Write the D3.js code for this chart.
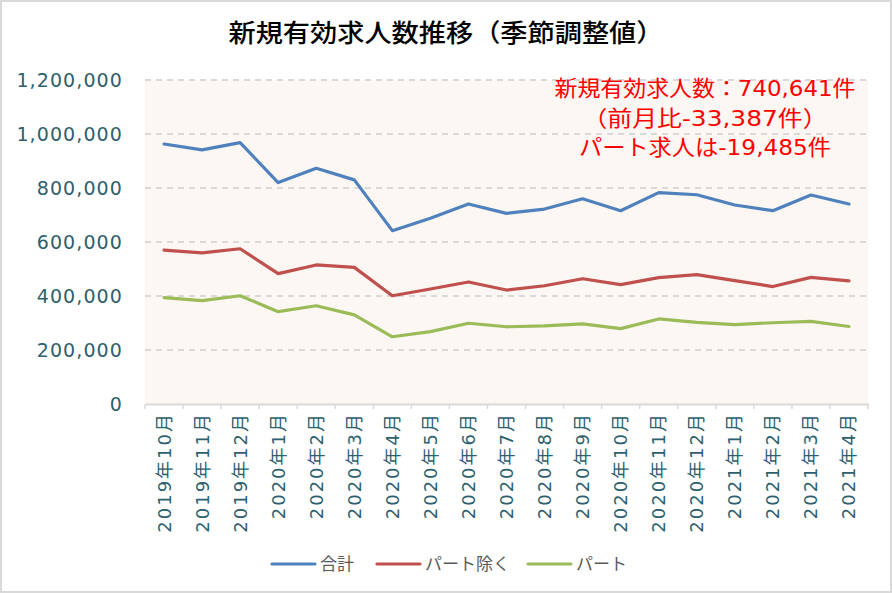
<!DOCTYPE html>
<html><head><meta charset="utf-8">
<script src="https://cdn.jsdelivr.net/npm/d3@7"></script>
<style>body{margin:0;background:#fff}svg{display:block}</style>
</head><body>
<script>
const categories = ["2019年10月","2019年11月","2019年12月","2020年1月","2020年2月","2020年3月","2020年4月","2020年5月","2020年6月","2020年7月","2020年8月","2020年9月","2020年10月","2020年11月","2020年12月","2021年1月","2021年2月","2021年3月","2021年4月"];
const totalValues = [963000,941000,968000,820000,873000,830000,642000,688000,741000,706000,722000,760000,716000,783000,775000,737000,716000,774028,740641];
const nonPartValues = [570000,560000,575000,483000,515000,506000,401000,426000,452000,422000,438000,464000,442000,468000,479000,457000,435000,469000,456000];
const partValues = [394000,383000,401000,342000,364000,330000,249000,268000,299000,286000,289000,297000,279000,315000,302000,294000,301000,306000,287000];
const seriesNames = ["合計","パート除く","パート"];
const yTicks = [0,200000,400000,600000,800000,1000000,1200000];
const titleText = "新規有効求人数推移（季節調整値）";
const noteLines = ["新規有効求人数：740,641件","（前月比-33,387件）","パート求人は-19,485件"];

const W = 892, H = 593;
const colors = ["#4f81bd","#c0504d","#9bbb59"];
const teal = "#2e5f6e";
const svg = d3.select("body").append("svg").attr("width", W).attr("height", H);

svg.append("rect").attr("x",1).attr("y",1).attr("width",W-2).attr("height",H-2)
  .attr("fill","#fff").attr("stroke","#d9d9d9").attr("stroke-width",2);

const plot = {l:145, r:868, t:80, b:404};
svg.append("rect").attr("x",plot.l).attr("y",plot.t).attr("width",plot.r-plot.l).attr("height",plot.b-plot.t).attr("fill","#fcf7f3");

const x = d3.scaleBand().domain(categories).range([plot.l, plot.r]);
const y = d3.scaleLinear().domain([0,1200000]).range([plot.b, plot.t]);

// gridlines
svg.append("g").selectAll("line").data(yTicks.filter(d=>d>0)).join("line")
  .attr("x1",plot.l).attr("x2",plot.r).attr("y1",d=>y(d)).attr("y2",d=>y(d))
  .attr("stroke","#d9d9d9").attr("stroke-width",2).attr("stroke-dasharray","6,5");

// y axis labels
const yAxis = d3.axisLeft(y).tickValues(yTicks).tickFormat(d3.format(",")).tickSize(0).tickPadding(22);
const ya = svg.append("g").attr("transform",`translate(${plot.l},0)`).call(yAxis);
ya.select(".domain").remove();
ya.selectAll("text").attr("fill",teal).attr("font-family","DejaVu Sans").attr("font-size",19)
  .attr("letter-spacing","1.1px").attr("dy","0.36em");

// x axis
const xAxis = d3.axisBottom(x).tickSize(0).tickPadding(0);
const xa = svg.append("g").attr("transform",`translate(0,${plot.b})`).call(xAxis);
xa.select(".domain").attr("stroke","#d9d9d9").attr("stroke-width",2);
xa.append("g").selectAll("line").data(d3.range(categories.length+1)).join("line")
  .attr("x1",i=>plot.l + i*x.step()).attr("x2",i=>plot.l + i*x.step())
  .attr("y1",0).attr("y2",5).attr("stroke","#d9d9d9").attr("stroke-width",1.5);
xa.selectAll(".tick text")
  .attr("transform","rotate(-90)")
  .attr("text-anchor","end")
  .attr("x",-8).attr("y",0).attr("dy","0.36em")
  .attr("fill",teal).attr("font-family","DejaVu Sans, 'Noto Sans CJK JP'").attr("font-size",18)
  .attr("letter-spacing","2px");

// lines
const line = d3.line().x((d,i)=>x(categories[i]) + x.bandwidth()/2).y(d=>y(d));
[totalValues, nonPartValues, partValues].forEach((vals,k)=>{
  svg.append("path").datum(vals).attr("d",line).attr("fill","none")
    .attr("stroke",colors[k]).attr("stroke-width",3.2).attr("stroke-linejoin","round").attr("stroke-linecap","round");
});

// title
svg.append("text").attr("x",446).attr("y",42).attr("text-anchor","middle")
  .attr("font-family","'Noto Sans CJK JP'").attr("font-size",25).attr("font-weight",500)
  .attr("textLength",435).attr("lengthAdjust","spacingAndGlyphs")
  .attr("fill","#000").text(titleText);

// annotation
const noteLen = [301, 245, 252];
svg.append("g").selectAll("text").data(noteLines).join("text")
  .attr("x",705).attr("y",(d,i)=>96 + i*29.5).attr("text-anchor","middle")
  .attr("font-family","DejaVu Sans, 'Noto Sans CJK JP'").attr("font-size",22)
  .attr("textLength",(d,i)=>noteLen[i]).attr("lengthAdjust","spacingAndGlyphs")
  .attr("fill","#ff0000").text(d=>d);

// legend
const legX = [272, 377, 528];
const lg = svg.append("g");
seriesNames.forEach((n,k)=>{
  lg.append("line").attr("x1",legX[k]).attr("x2",legX[k]+43).attr("y1",564).attr("y2",564)
    .attr("stroke",colors[k]).attr("stroke-width",3.2).attr("stroke-linecap","round");
  lg.append("text").attr("x",legX[k]+48).attr("y",564).attr("dy","0.36em")
    .attr("font-family","'Noto Sans CJK JP'").attr("font-size",17).attr("fill","#595959").text(n);
});
</script>
</body></html>
